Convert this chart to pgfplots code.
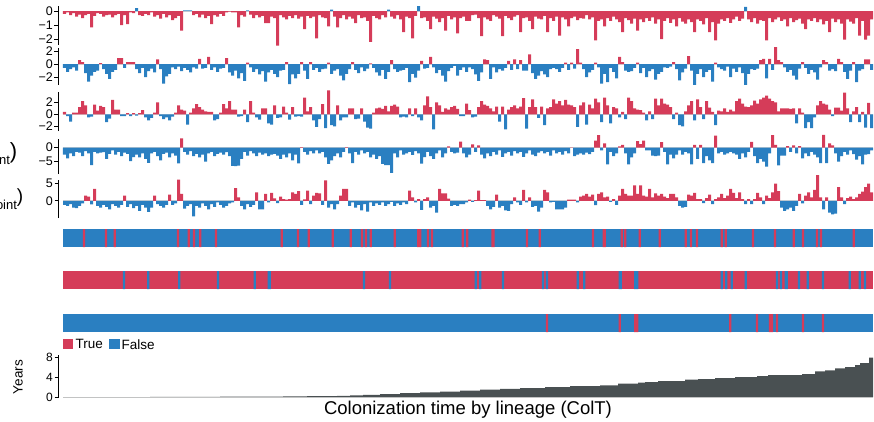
\documentclass[border=0pt]{standalone}
\usepackage{fontspec}
\setmainfont{Liberation Sans}
\usepackage{pgfplots}
\usepackage{pgfplotstable}
\pgfplotsset{compat=1.18}
\definecolor{cR}{RGB}{213,60,89}
\definecolor{cB}{RGB}{42,127,193}
\definecolor{cG}{RGB}{73,80,82}
\definecolor{cZ}{RGB}{212,212,212}

\pgfplotstableread[row sep=\\]{
v\\
-0.2\\ -0.1\\ -0.3\\ -0.15\\ -0.4\\ -0.25\\ -0.5\\ -0.3\\ -0.2\\ -1.17\\
-0.35\\ -0.15\\ -0.2\\ -0.4\\ -0.3\\ -0.25\\ -0.45\\ -0.3\\ -0.2\\ -1.0\\
-0.3\\ -0.93\\ -0.1\\ -0.15\\ 0.2\\ -0.3\\ -0.35\\ -0.2\\ -0.3\\ -0.1\\
-0.4\\ -0.3\\ -0.55\\ -0.2\\ -0.45\\ -0.3\\ -0.65\\ -0.5\\ -0.35\\ -1.4\\
0.05\\ 0.05\\ 0.05\\ -0.3\\ -0.2\\ -0.45\\ -0.25\\ -0.5\\ -0.35\\ -0.93\\
-0.3\\ -0.4\\ -0.2\\ -0.35\\ -0.1\\ -0.05\\ -0.1\\ -0.1\\ -1.17\\ -0.3\\
-0.4\\ 0.05\\ -0.25\\ -0.5\\ -0.3\\ -0.45\\ -0.35\\ -0.86\\ -0.86\\ -0.4\\
-0.5\\ -2.48\\ -0.3\\ -0.45\\ -0.6\\ -0.35\\ -0.5\\ -0.3\\ -0.55\\ -0.4\\
-1.3\\ -0.35\\ -0.5\\ -0.4\\ -1.95\\ -0.3\\ -0.45\\ -0.5\\ -1.1\\ 0.1\\
-0.4\\ -1.17\\ -0.5\\ -0.3\\ -0.6\\ -0.4\\ -0.55\\ -0.86\\ -0.3\\ -0.5\\
-0.45\\ -0.7\\ -2.2\\ -0.35\\ -0.5\\ -0.6\\ -0.3\\ -0.45\\ 0.1\\ -0.4\\
-0.55\\ -0.3\\ -0.6\\ -1.5\\ -0.4\\ -0.5\\ -1.95\\ -0.35\\ 0.35\\ -0.5\\
-0.45\\ -0.7\\ -1.3\\ -0.4\\ -0.55\\ -0.8\\ -0.5\\ -1.4\\ -0.35\\ -0.6\\
-0.45\\ -1.6\\ -0.5\\ -0.4\\ -0.7\\ -0.7\\ -0.3\\ -0.25\\ -0.5\\ -1.8\\
-0.45\\ -0.6\\ -0.7\\ -0.3\\ -0.4\\ -0.55\\ -1.8\\ -0.35\\ -0.5\\ -0.65\\
-0.4\\ -0.3\\ -1.5\\ -0.5\\ -0.45\\ -0.7\\ -1.3\\ -0.4\\ -0.55\\ -0.6\\
-0.35\\ -1.5\\ -0.5\\ -0.7\\ -0.4\\ -1.76\\ -0.45\\ -0.6\\ -1.1\\ -0.5\\
-0.4\\ -0.65\\ -0.5\\ -0.55\\ -0.3\\ -0.6\\ -0.45\\ -2.1\\ -0.7\\ -0.6\\
-1.1\\ -0.5\\ -0.7\\ -0.4\\ -0.6\\ -0.8\\ -1.5\\ -0.5\\ -0.65\\ -0.9\\
-0.55\\ -1.4\\ -0.6\\ -0.8\\ -0.5\\ -0.7\\ -0.45\\ -0.9\\ -0.6\\ -2.0\\
-0.7\\ -0.5\\ -0.85\\ -0.6\\ -1.1\\ -0.5\\ -0.75\\ -0.9\\ -0.6\\ -0.8\\
-1.5\\ -0.6\\ -0.7\\ -0.95\\ -0.5\\ -1.5\\ -0.8\\ -2.1\\ -0.9\\ -0.6\\
-0.7\\ -0.5\\ -0.85\\ -0.6\\ -0.4\\ -0.7\\ -0.55\\ 0.3\\ -0.6\\ -0.8\\
-0.5\\ -0.9\\ -0.65\\ -0.7\\ -2.1\\ -0.5\\ -0.8\\ -0.6\\ -0.45\\ -0.7\\
-0.6\\ -1.1\\ -0.5\\ -0.8\\ -0.65\\ -0.55\\ -0.9\\ -1.3\\ -0.6\\ -0.7\\
-0.5\\ -0.8\\ -0.6\\ -0.95\\ -0.7\\ -1.5\\ -0.55\\ -0.8\\ -0.6\\ -0.9\\
-2.05\\ -0.6\\ -0.75\\ -0.9\\ -0.5\\ -1.76\\ -0.7\\ -2.05\\ -1.76\\ -0.6\\
}\Pone

\pgfplotstableread[row sep=\\]{
v\\
-0.6\\ -1.2\\ -0.8\\ -0.5\\ -1.0\\ 0.6\\ 0.3\\ -1.4\\ -2.7\\ -1.8\\
-1.2\\ -1.0\\ 0.15\\ -0.8\\ -1.5\\ -2.3\\ -1.2\\ -0.9\\ 0.9\\ 0.9\\
-0.6\\ 0.3\\ 0.3\\ 0.3\\ -0.8\\ -1.4\\ -0.6\\ -2.0\\ -1.1\\ -0.7\\
-1.3\\ 0.7\\ -0.8\\ -3.0\\ -1.9\\ -1.5\\ -0.5\\ -0.8\\ -0.4\\ -1.1\\
-0.6\\ -0.9\\ -1.3\\ -0.5\\ -0.7\\ 0.8\\ -0.7\\ -0.6\\ 1.1\\ -0.9\\
-0.5\\ -1.2\\ -0.7\\ -0.6\\ 0.9\\ -1.3\\ -1.8\\ -1.0\\ -2.2\\ -1.4\\
-2.6\\ 0.2\\ -0.5\\ -1.2\\ -0.8\\ -1.6\\ -1.1\\ -2.7\\ -1.3\\ -0.9\\
-1.5\\ -2.0\\ -1.0\\ -0.9\\ 0.3\\ -3.1\\ -1.6\\ -2.2\\ -1.5\\ 0.3\\
-1.0\\ -2.3\\ 0.3\\ -0.9\\ -0.6\\ -1.2\\ -0.8\\ -0.7\\ 0.2\\ -1.5\\
-1.0\\ -0.8\\ -1.8\\ -2.5\\ -1.5\\ -0.8\\ 0.3\\ -0.9\\ -1.4\\ -0.5\\
-1.1\\ -0.7\\ 0.1\\ -0.6\\ -1.3\\ -1.8\\ -0.9\\ -2.3\\ -1.2\\ 0.6\\
-0.8\\ -1.2\\ -1.0\\ -0.9\\ -0.6\\ -2.8\\ -1.5\\ -2.1\\ -1.0\\ 0.5\\
-0.7\\ -0.6\\ 1.1\\ -0.5\\ -1.4\\ -0.9\\ -1.8\\ -2.7\\ -1.1\\ -0.6\\
-0.3\\ -1.8\\ -0.9\\ -0.5\\ -1.2\\ -0.5\\ -0.8\\ -1.6\\ -2.6\\ -1.3\\
0.7\\ 0.6\\ -2.3\\ -0.5\\ -1.3\\ -0.8\\ -1.0\\ -0.6\\ 0.5\\ -0.9\\
0.7\\ -0.8\\ 0.6\\ -1.0\\ -1.0\\ 1.5\\ -1.4\\ -2.3\\ -1.8\\ -1.1\\
-1.6\\ -2.0\\ -0.8\\ -0.6\\ -0.8\\ -1.2\\ -0.6\\ 0.2\\ -0.9\\ 0.2\\
-0.7\\ 2.3\\ 0.2\\ -0.8\\ -2.0\\ -1.3\\ -0.9\\ 0.2\\ -0.5\\ -3.0\\
-1.5\\ -2.8\\ -0.6\\ -1.2\\ -2.2\\ 1.1\\ 0.3\\ -1.0\\ -1.2\\ -1.1\\
-0.6\\ 0.2\\ -1.4\\ -0.6\\ -2.0\\ -1.1\\ -0.8\\ -2.4\\ -1.5\\ -1.2\\
-0.5\\ -0.6\\ -0.4\\ 0.3\\ -0.8\\ -2.5\\ -1.3\\ -0.7\\ 1.2\\ -1.0\\
-3.2\\ -1.5\\ -0.8\\ -2.0\\ -1.2\\ -0.9\\ -2.7\\ 0.2\\ -0.5\\ -0.8\\
-1.0\\ -0.4\\ -2.0\\ -0.7\\ -1.2\\ -0.5\\ -1.4\\ -3.2\\ -1.5\\ -0.8\\
-0.9\\ -0.7\\ 0.6\\ 0.8\\ -2.2\\ 0.8\\ -0.9\\ 2.6\\ 0.6\\ 0.3\\
-0.5\\ -1.2\\ -0.9\\ -1.8\\ -2.4\\ -0.7\\ 0.3\\ -0.6\\ -1.5\\ -0.9\\
-1.3\\ -2.4\\ -0.5\\ 0.6\\ 0.3\\ -1.0\\ -0.8\\ -1.1\\ 0.8\\ 0.3\\
-1.2\\ -2.3\\ -1.0\\ 0.3\\ -2.8\\ -1.0\\ -0.8\\ 0.7\\ 0.7\\ -0.9\\
}\Ptwo

\pgfplotstableread[row sep=\\]{
v\\
0.4\\ -0.3\\ -1.2\\ 0.3\\ 0.3\\ 1.2\\ 2.2\\ 1.5\\ -0.5\\ -0.4\\
1.6\\ 0.6\\ 1.4\\ 1.2\\ -1.3\\ -0.7\\ 2.4\\ 0.8\\ 0.8\\ -0.3\\
-0.3\\ 0.2\\ -0.3\\ 0.2\\ -0.2\\ 0.2\\ 0.7\\ -0.5\\ -1.0\\ -0.6\\
0.3\\ 2.0\\ -0.3\\ -0.8\\ -0.5\\ -1.0\\ -0.4\\ 0.3\\ 1.5\\ 0.8\\
0.6\\ -1.7\\ 0.3\\ 1.0\\ 1.7\\ 1.2\\ 0.8\\ 0.5\\ 0.4\\ 0.4\\
-1.0\\ -0.8\\ 0.3\\ 1.7\\ 1.0\\ 2.2\\ 0.8\\ 0.8\\ -0.4\\ -0.3\\
0.8\\ -1.3\\ 2.2\\ 0.3\\ -0.5\\ -0.9\\ 1.0\\ 1.0\\ -1.5\\ -1.7\\
1.5\\ -0.6\\ -0.5\\ 1.3\\ 0.3\\ -0.9\\ 1.2\\ -0.4\\ -0.3\\ -0.4\\
2.8\\ 0.5\\ 1.2\\ -1.0\\ -2.1\\ -0.8\\ 1.7\\ -2.3\\ 4.0\\ -1.8\\
-2.0\\ 1.5\\ -1.0\\ -0.5\\ -0.5\\ 1.0\\ 1.0\\ -0.8\\ -0.7\\ 1.0\\
-1.2\\ -2.2\\ -2.4\\ 0.3\\ 1.0\\ 1.1\\ 0.9\\ 1.4\\ 0.5\\ 1.4\\
1.6\\ 1.3\\ -0.5\\ -0.4\\ -0.5\\ 1.0\\ -0.3\\ 1.0\\ -0.5\\ -1.0\\
1.5\\ 3.0\\ 1.2\\ -2.5\\ 2.0\\ 1.5\\ 0.4\\ 1.0\\ 0.8\\ 1.2\\
1.4\\ 0.9\\ -0.3\\ -0.3\\ 1.8\\ 0.7\\ -0.5\\ -0.4\\ 1.2\\ 2.2\\
1.6\\ 1.4\\ 1.0\\ 0.5\\ 1.3\\ -1.2\\ 1.3\\ -2.5\\ 0.8\\ 1.2\\
1.5\\ 1.0\\ 1.3\\ 2.7\\ -2.4\\ 1.2\\ 2.5\\ 1.2\\ -0.6\\ 1.3\\
-1.8\\ 1.0\\ 1.2\\ 2.5\\ 1.8\\ 2.2\\ 1.5\\ 2.4\\ 1.6\\ 1.5\\
1.2\\ -2.1\\ 1.5\\ 2.0\\ -1.7\\ 1.6\\ 1.0\\ 2.6\\ 2.0\\ -1.3\\
2.8\\ 1.5\\ -1.5\\ 1.2\\ 1.0\\ -0.5\\ 0.4\\ -0.8\\ 2.8\\ 2.2\\
1.0\\ 0.8\\ 0.7\\ 0.3\\ -1.0\\ 0.5\\ -0.8\\ 2.6\\ 1.5\\ 2.6\\
1.8\\ 1.6\\ 1.2\\ -0.8\\ 0.3\\ -1.8\\ -2.0\\ 0.5\\ 1.5\\ 2.2\\
-1.0\\ 2.5\\ 1.2\\ -0.8\\ 2.2\\ 1.1\\ 0.4\\ -1.8\\ 0.6\\ 0.5\\
1.0\\ 0.4\\ 0.8\\ 0.5\\ 2.2\\ 2.6\\ 1.8\\ 1.3\\ 1.2\\ 1.5\\
2.3\\ 1.8\\ 2.5\\ 2.8\\ 3.1\\ 2.6\\ 2.2\\ 2.0\\ 0.5\\ 1.0\\
1.0\\ 1.0\\ 0.9\\ 1.0\\ -1.5\\ 1.0\\ 0.3\\ -2.3\\ -1.3\\ -2.3\\
-0.5\\ 1.5\\ 2.2\\ 1.8\\ 1.6\\ 0.8\\ -0.3\\ 1.1\\ 1.1\\ 0.6\\
3.6\\ 1.0\\ -1.3\\ 0.5\\ 1.2\\ -1.3\\ 0.4\\ -2.2\\ 1.9\\ -2.3\\
}\Pthree

\pgfplotstableread[row sep=\\]{
v\\
-2.5\\ -3.8\\ -2.0\\ -3.0\\ -1.5\\ -1.8\\ -3.0\\ -1.2\\ -2.0\\ -6.2\\
-1.5\\ -2.0\\ -1.8\\ -1.6\\ -4.0\\ -2.2\\ -1.0\\ -2.5\\ -1.5\\ -3.0\\
-1.8\\ -2.2\\ -4.8\\ -3.4\\ -2.5\\ -3.5\\ -2.0\\ -4.0\\ -5.4\\ -2.0\\
-1.5\\ -3.0\\ -4.5\\ -2.2\\ -1.8\\ -3.5\\ -2.0\\ -2.8\\ -5.6\\ 3.3\\
-1.5\\ -2.5\\ -1.2\\ -3.0\\ -2.2\\ -3.5\\ -2.5\\ -5.0\\ -2.0\\ -1.5\\
-3.0\\ -2.2\\ -1.8\\ -2.5\\ -1.6\\ -3.0\\ -6.5\\ -6.6\\ -6.4\\ -4.0\\
-1.5\\ -2.8\\ -1.2\\ -2.0\\ -3.0\\ -1.8\\ -2.5\\ -2.0\\ -3.0\\ -2.5\\
-2.2\\ -2.8\\ -4.0\\ -2.5\\ -3.5\\ -2.0\\ -4.5\\ -2.5\\ -5.6\\ 0.2\\
-1.5\\ -2.5\\ -1.2\\ -2.0\\ -1.0\\ -2.0\\ -1.5\\ -3.5\\ -5.8\\ -4.5\\
-3.0\\ -2.0\\ -3.5\\ -1.5\\ 0.2\\ -2.0\\ -5.5\\ -1.5\\ -2.5\\ -1.0\\
-2.0\\ -1.5\\ -3.5\\ -2.5\\ -4.0\\ -3.0\\ -5.8\\ -6.2\\ -6.2\\ -9.0\\
-2.0\\ -3.5\\ -1.0\\ -2.5\\ -2.0\\ -1.5\\ -2.6\\ -1.2\\ -2.0\\ -5.7\\
-3.4\\ -1.5\\ -3.0\\ -4.0\\ -2.0\\ -1.0\\ -3.5\\ -2.0\\ 0.5\\ -1.5\\
-2.0\\ -1.8\\ 2.2\\ -2.0\\ -3.5\\ -2.5\\ 1.2\\ -1.5\\ 0.8\\ -2.5\\
-3.8\\ -2.0\\ -3.0\\ -1.5\\ -2.5\\ -1.0\\ -3.3\\ -2.0\\ -1.5\\ -2.8\\
-1.2\\ -2.0\\ -1.5\\ -3.3\\ -2.0\\ -1.0\\ -2.5\\ -3.0\\ -1.8\\ -1.2\\
-2.0\\ -1.5\\ -2.8\\ -1.0\\ -2.0\\ -1.5\\ -2.5\\ -1.2\\ -2.0\\ 0.1\\
-3.0\\ -2.5\\ -2.0\\ -2.5\\ -1.8\\ -2.3\\ -1.5\\ 2.5\\ 4.5\\ -1.0\\
1.5\\ -6.0\\ -1.5\\ -3.0\\ -2.0\\ 0.5\\ 1.0\\ -2.0\\ -6.0\\ -3.5\\
-2.0\\ 2.3\\ 1.3\\ 2.5\\ -1.0\\ -1.0\\ -2.8\\ -3.0\\ -2.8\\ 2.0\\
-1.5\\ -6.0\\ -2.5\\ -3.8\\ -2.5\\ -1.0\\ -2.5\\ -1.5\\ -2.0\\ -6.0\\
1.0\\ -4.0\\ 1.0\\ -5.5\\ -3.0\\ -4.5\\ -5.5\\ 4.3\\ -2.0\\ -1.5\\
-2.5\\ -2.0\\ -1.5\\ -2.0\\ -2.5\\ -4.0\\ -2.0\\ -3.5\\ -1.5\\ 2.1\\
-3.0\\ -5.5\\ -4.0\\ -5.0\\ -6.8\\ -2.0\\ 4.5\\ 1.0\\ -6.3\\ -2.8\\
-2.8\\ 0.6\\ -1.5\\ 0.8\\ -2.0\\ 0.6\\ -3.8\\ -2.0\\ -3.0\\ -1.5\\
-2.5\\ -3.5\\ -5.5\\ 4.6\\ -5.5\\ 1.5\\ 0.8\\ -2.0\\ -5.0\\ -3.0\\
-1.5\\ -2.5\\ -1.0\\ -2.3\\ -4.3\\ -3.0\\ -6.0\\ -2.5\\ -2.3\\ -1.0\\
}\Pfour

\pgfplotstableread[row sep=\\]{
v\\
-1.2\\ -1.5\\ -1.0\\ -2.0\\ -2.2\\ -1.5\\ -0.8\\ 1.5\\ 1.2\\ -1.1\\
3.5\\ -1.5\\ -2.0\\ -1.2\\ -1.8\\ -2.5\\ -1.0\\ -1.5\\ -2.0\\ -1.2\\
1.5\\ -1.8\\ -1.0\\ -2.2\\ -1.5\\ -3.0\\ -1.2\\ -2.0\\ -3.3\\ -2.0\\
1.5\\ -1.0\\ -1.5\\ -2.0\\ -1.2\\ 1.8\\ -1.2\\ -0.8\\ 6.2\\ 2.0\\
-2.3\\ -1.5\\ -1.0\\ -4.6\\ -1.5\\ -2.0\\ -0.8\\ -1.5\\ -2.5\\ -1.0\\
-1.8\\ -0.5\\ -1.2\\ -2.0\\ -1.5\\ -0.8\\ -0.5\\ 3.7\\ 1.0\\ -1.5\\
-2.5\\ -1.0\\ -1.8\\ -1.2\\ 2.5\\ -2.5\\ -2.5\\ 2.0\\ -0.5\\ 2.3\\
0.7\\ -0.7\\ 1.2\\ 0.5\\ 0.3\\ 0.5\\ 2.5\\ 2.0\\ 2.8\\ -1.2\\
0.4\\ 3.0\\ -1.0\\ 1.5\\ 2.3\\ 2.2\\ -1.2\\ 6.0\\ -2.0\\ -1.0\\
-2.5\\ -1.0\\ 1.5\\ 3.5\\ 3.5\\ -1.5\\ -0.5\\ -2.0\\ -1.2\\ -2.8\\
-1.0\\ -3.2\\ -0.5\\ -1.5\\ -0.8\\ -1.2\\ -0.5\\ -1.5\\ -1.0\\ -0.3\\
-1.5\\ -0.8\\ -1.2\\ -0.5\\ -1.0\\ 3.0\\ 1.0\\ -0.5\\ 0.5\\ -2.7\\
0.5\\ 1.0\\ -2.0\\ -1.5\\ -3.5\\ 3.5\\ 2.2\\ 2.2\\ 0.6\\ -1.5\\
-1.2\\ -1.5\\ -1.0\\ -1.0\\ -0.5\\ 0.3\\ -0.3\\ 0.2\\ 3.0\\ 0.2\\
0.2\\ -1.5\\ -2.5\\ -1.8\\ 1.8\\ -2.0\\ -1.5\\ -2.8\\ -3.0\\ -1.0\\
1.0\\ -0.5\\ -1.2\\ 3.2\\ -0.5\\ 1.0\\ -1.8\\ -1.5\\ -3.2\\ -2.0\\
3.2\\ 2.5\\ -0.5\\ -0.3\\ -2.5\\ -2.5\\ -2.5\\ -2.0\\ 0.3\\ 0.3\\
0.3\\ -0.5\\ 1.2\\ 1.5\\ 2.0\\ 1.2\\ 1.8\\ -1.3\\ 2.0\\ 2.5\\
1.0\\ 1.2\\ -0.3\\ 0.5\\ -1.2\\ 1.5\\ 3.5\\ 2.0\\ 1.5\\ 1.5\\
4.5\\ 2.0\\ 4.5\\ 1.5\\ 1.2\\ 3.5\\ 1.0\\ 2.2\\ 1.5\\ 2.0\\
1.2\\ 0.8\\ 2.0\\ 2.0\\ 1.0\\ -1.5\\ -2.0\\ -1.8\\ 1.8\\ 1.5\\
2.3\\ 0.5\\ 0.5\\ -0.7\\ 0.8\\ 1.8\\ -1.0\\ 0.5\\ 1.0\\ 2.0\\
0.8\\ 1.5\\ 3.5\\ 2.3\\ 0.8\\ 2.5\\ 0.5\\ -1.0\\ 0.5\\ -1.0\\
0.5\\ 2.3\\ 1.0\\ -1.0\\ 1.5\\ 0.8\\ 2.5\\ 5.0\\ 2.8\\ -2.0\\
-3.0\\ -2.5\\ -2.0\\ -3.0\\ -1.5\\ 2.0\\ -0.8\\ 1.5\\ 2.5\\ 1.0\\
3.2\\ 7.5\\ 1.0\\ -2.5\\ 1.0\\ -3.5\\ -4.0\\ -3.8\\ 4.0\\ 1.0\\
-1.0\\ 0.8\\ 1.2\\ 0.5\\ 1.0\\ 2.0\\ 2.7\\ 4.0\\ 5.0\\ 2.5\\
}\Pfive

\pgfplotstableread{
X y
0 0.0
87 0.03
157 0.06
220 0.12
244 0.18
274 0.25
287 0.35
300 0.45
317 0.6
337 0.8
357 0.95
377 1.1
397 1.3
417 1.5
437 1.65
457 1.8
482 2.0
507 2.2
537 2.33
555 2.67
575 2.87
582 3.0
595 3.2
622 3.47
635 3.6
652 3.8
672 4.0
694 4.2
705 4.4
739 4.6
752 5.13
762 5.33
772 5.73
782 6.0
792 6.4
797 6.8
806 7.87
810 7.87
}\Years

\pgfplotsset{
 panel/.style={scale only axis, width=814.5pt, anchor=north west,
   xmin=-2, xmax=269.5, axis x line=none, axis y line*=left,
   y axis line style={black, line width=1.1pt}, tick align=outside,
   major tick length=4pt, ytick style={black, line width=1pt},
   yticklabel style={font=\fontsize{12.5}{12.5}\selectfont, inner sep=1.5pt},
   clip=false, enlargelimits=false},
 stripe/.style={scale only axis, width=810pt, height=18pt, anchor=north west,
   xmin=0, xmax=810, ymin=0, ymax=1, hide axis, clip=false},
}

\newcommand{\panelbars}[3]{%
  \addplot[cZ, line width=0.8pt] coordinates {(-0.5,0) (269.5,0)};
  \addplot[ybar, bar width=1, bar shift=0pt, fill=#2, draw=none,
    restrict y to domain=0:100] table[x expr=\coordindex, y=v] {#1};
  \addplot[ybar, bar width=1, bar shift=0pt, fill=#3, draw=none,
    restrict y to domain=-100:0] table[x expr=\coordindex, y=v] {#1};
}

\begin{document}
\begin{tikzpicture}

\begin{axis}[panel, at={(58.5pt,-6pt)}, height=38.6pt, ymin=-2.4, ymax=0.36,
  ytick={-2,-1,0}, yticklabels={−2,−1,0}]
\panelbars{\Pone}{cB}{cR}
\end{axis}

\begin{axis}[panel, at={(58.5pt,-48.4pt)}, height=36.1pt, ymin=-3.15, ymax=2.4,
  ytick={-2,0,2}, yticklabels={−2,0,2}]
\panelbars{\Ptwo}{cR}{cB}
\end{axis}

\begin{axis}[panel, at={(58.5pt,-92.1pt)}, height=39pt, ymin=-2.8, ymax=3.7,
  ytick={-2,0,2}, yticklabels={−2,0,2}]
\panelbars{\Pthree}{cR}{cB}
\end{axis}

\begin{axis}[panel, at={(58.5pt,-139pt)}, height=35pt, ymin=-9.4, ymax=3.1,
  ytick={-5,0}, yticklabels={−5,0}]
\panelbars{\Pfour}{cR}{cB}
\end{axis}

\begin{axis}[panel, at={(58.5pt,-180pt)}, height=38.1pt, ymin=-5.1, ymax=6.1,
  ytick={0,5}, yticklabels={0,5}]
\panelbars{\Pfive}{cR}{cB}
\end{axis}

% categorical rows
\begin{axis}[stripe, at={(63pt,-229pt)}]
\addplot[fill=cB, draw=none] coordinates {(0,1) (810,1)} \closedcycle;
\addplot[ybar, bar width=2.2, bar shift=0pt, fill=cR, draw=none] coordinates {
(21,1) (43,1) (51.7,1) (115,1) (125.7,1) (131,1) (137.3,1) (153,1) (218.7,1) (235,1)
(245.7,1) (269.7,1) (287.7,1) (299,1) (303,1) (307.7,1) (331.7,1) (355.3,1) (357.3,1) (365,1)
(369,1) (399.7,1) (404.3,1) (429.5,1) (430.5,1) (464,1) (476.7,1) (530,1) (540.8,1) (541.8,1)
(558.7,1) (562.3,1) (576.7,1) (596.7,1) (622.7,1) (628,1) (634,1) (658.7,1) (662.7,1) (690,1)
(712,1) (730.7,1) (740,1) (754,1) (758,1) (790.7,1)};
\end{axis}

\begin{axis}[stripe, at={(63pt,-271pt)}]
\addplot[fill=cR, draw=none] coordinates {(0,1) (810,1)} \closedcycle;
\addplot[ybar, bar width=2.2, bar shift=0pt, fill=cB, draw=none] coordinates {
(61,1) (85.3,1) (116.3,1) (155,1) (191.7,1) (205.8,1) (206.8,1) (301,1) (327,1) (412.7,1)
(417.3,1) (440,1) (480,1) (484,1) (514.7,1) (521.3,1) (556.8,1) (557.8,1) (572.3,1) (574.3,1)
(658.7,1) (663.3,1) (668.7,1) (682.7,1) (714,1) (718,1) (722.8,1) (723.8,1) (736,1) (744.7,1)
(760,1) (786.7,1) (796.7,1) (802,1)};
\end{axis}

\begin{axis}[stripe, at={(63pt,-314pt)}]
\addplot[fill=cB, draw=none] coordinates {(0,1) (810,1)} \closedcycle;
\addplot[ybar, bar width=2.2, bar shift=0pt, fill=cR, draw=none] coordinates {
(484,1) (556.7,1) (572.3,1) (574.3,1) (667.3,1) (694,1) (707,1) (709,1) (714,1) (740,1) (760,1)};
\end{axis}

% legend
\fill[cR] (63.3pt,-339.3pt) rectangle (73.3pt,-349.3pt);
\node[anchor=west, inner sep=0pt, font=\fontsize{13.5}{13.5}\selectfont] at (75.5pt,-344.3pt) {True};
\fill[cB] (109.3pt,-339.3pt) rectangle (119.6pt,-349.3pt);
\node[anchor=west, inner sep=0pt, font=\fontsize{13.5}{13.5}\selectfont] at (121.5pt,-344.3pt) {False};

% years
\begin{axis}[panel, at={(58.5pt,-355pt)}, height=42pt, xmin=-4.5, xmax=810,
  ymin=0, ymax=8.4, ytick={0,4,8}, yticklabels={0,4,8},
  yticklabel style={font=\fontsize{12}{12}\selectfont}]
\addplot[cZ, line width=0.8pt] coordinates {(0,0) (810,0)};
\addplot[const plot, fill=cG, draw=none] table[x=X, y=y] {\Years} \closedcycle;
\end{axis}

\node[rotate=90, font=\fontsize{13.5}{13.5}\selectfont] at (18pt,-377pt) {Years};
\node[font=\fontsize{18.5}{18.5}\selectfont] at (468pt,-410pt) {Colonization time by lineage (ColT)};

% truncated left labels (cut by the picture's left edge, as in the reference)
\node[anchor=base east, inner sep=0pt, font=\fontsize{22}{22}\selectfont] at (17.5pt,-158.5pt)
  {log(ColT\raisebox{-6pt}{\fontsize{13}{13}\selectfont pre-breakpoint})};
\node[anchor=base east, inner sep=0pt, font=\fontsize{19}{19}\selectfont] at (23.5pt,-202pt)
  {log(ColT\raisebox{-7pt}{\fontsize{13}{13}\selectfont post-breakpoint})};

\pgfresetboundingbox
\path[use as bounding box] (0pt,0pt) rectangle (874pt,-421pt);
\end{tikzpicture}
\end{document}
